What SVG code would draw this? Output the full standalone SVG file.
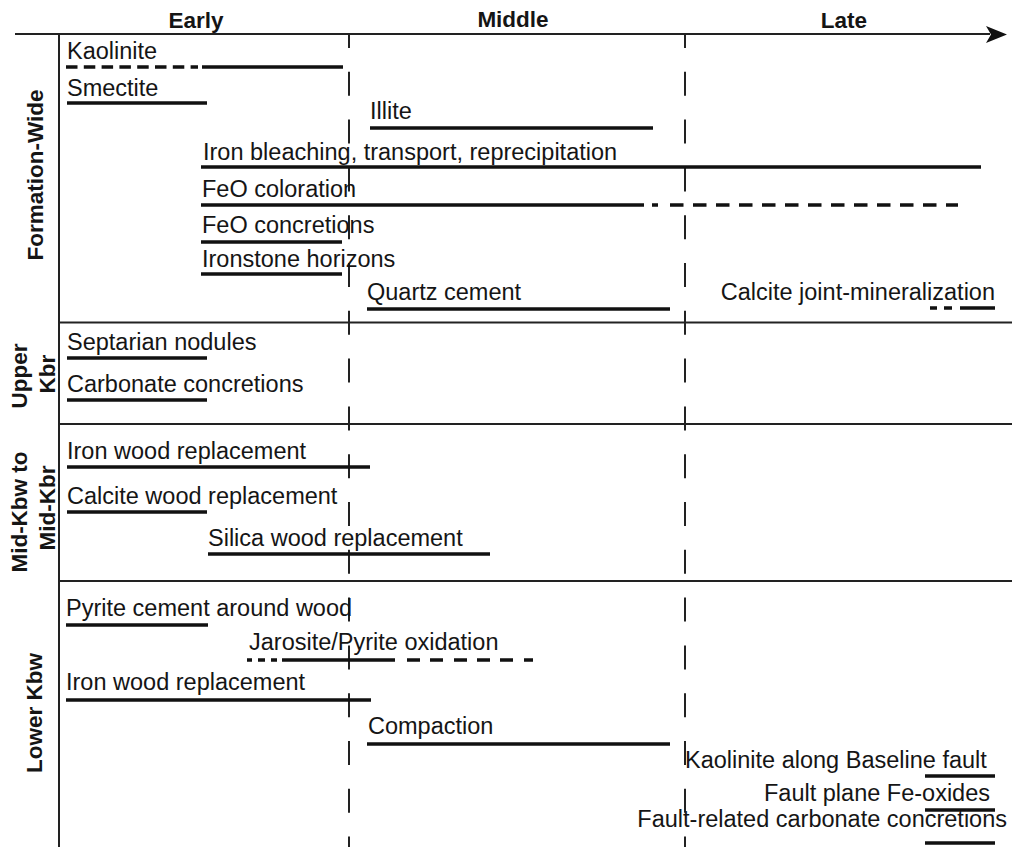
<svg xmlns="http://www.w3.org/2000/svg" width="1012" height="847" viewBox="0 0 1012 847">
<style>
text{font-family:"Liberation Sans",Arial,sans-serif;fill:#151515}
.t{font-size:23.5px}
.h{font-size:22.5px;font-weight:bold}
.s{font-size:22.5px;font-weight:bold}
.bar{stroke:#111;stroke-width:3.5;fill:none}
.grid{stroke:#222;stroke-width:2;fill:none}
.vd{stroke:#222;stroke-width:2;stroke-dasharray:24 23.8;stroke-dashoffset:10;fill:none}
</style>
<rect width="1012" height="847" fill="#fff"/>
<g id="frame">
<line class="grid" x1="15" y1="34" x2="990" y2="34"/>
<polygon points="986,26 1007,34.5 986,43 991,34.5" fill="#111"/>
<line class="grid" x1="59" y1="34" x2="59" y2="847"/>
<line class="grid" x1="59" y1="322.5" x2="1012" y2="322.5"/>
<line class="grid" x1="59" y1="424" x2="1012" y2="424"/>
<line class="grid" x1="59" y1="581" x2="1012" y2="581"/>
<line class="vd" x1="349" y1="34" x2="349" y2="847"/>
<line class="vd" x1="685" y1="34" x2="685" y2="847"/>
</g>
<g id="headers">
<text class="h" x="196" y="28" text-anchor="middle">Early</text>
<text class="h" x="513" y="27" text-anchor="middle">Middle</text>
<text class="h" x="844" y="28" text-anchor="middle">Late</text>
</g>
<g id="row-labels">
<text class="s" transform="translate(43,175) rotate(-90)" text-anchor="middle">Formation-Wide</text>
<text class="s" transform="translate(27,376) rotate(-90)" text-anchor="middle">Upper</text>
<text class="s" transform="translate(55,374) rotate(-90)" text-anchor="middle">Kbr</text>
<text class="s" transform="translate(27,512) rotate(-90)" text-anchor="middle">Mid-Kbw to</text>
<text class="s" transform="translate(55,508) rotate(-90)" text-anchor="middle">Mid-Kbr</text>
<text class="s" transform="translate(42,713) rotate(-90)" text-anchor="middle">Lower Kbw</text>
</g>
<g id="connectors">
<line class="bar" x1="66" y1="67" x2="198" y2="67" stroke-dasharray="11.5 6.3"/>
<line class="bar" x1="202" y1="67" x2="343" y2="67"/>
<line class="bar" x1="67" y1="103" x2="207" y2="103"/>
<line class="bar" x1="370" y1="128" x2="653" y2="128"/>
<line class="bar" x1="201" y1="167" x2="981" y2="167"/>
<line class="bar" x1="201" y1="205" x2="644" y2="205"/>
<line class="bar" x1="652" y1="205" x2="658" y2="205"/>
<line class="bar" x1="670" y1="205" x2="958" y2="205" stroke-dasharray="13.5 9.5"/>
<line class="bar" x1="201" y1="242" x2="342" y2="242"/>
<line class="bar" x1="201" y1="274" x2="342" y2="274"/>
<line class="bar" x1="367" y1="309" x2="670" y2="309"/>
<path class="bar" d="M930,308H937M944,308H952M960,308H995"/>
<line class="bar" x1="67" y1="358" x2="207" y2="358"/>
<line class="bar" x1="67" y1="400" x2="207" y2="400"/>
<line class="bar" x1="67" y1="467" x2="370" y2="467"/>
<line class="bar" x1="67" y1="512" x2="207" y2="512"/>
<line class="bar" x1="208" y1="554" x2="490" y2="554"/>
<line class="bar" x1="66" y1="625" x2="208" y2="625"/>
<path class="bar" d="M247,660H252M258,660H265M271,660H277M282,660H395M407,660H420M430,660H443M454,660H467M477,660H490M500,660H513M524,660H533"/>
<line class="bar" x1="66" y1="700" x2="371" y2="700"/>
<line class="bar" x1="367" y1="744" x2="670" y2="744"/>
<line class="bar" x1="925" y1="776" x2="995" y2="776"/>
<line class="bar" x1="925" y1="810" x2="995" y2="810"/>
<line class="bar" x1="925" y1="843" x2="995" y2="843"/>
</g>
<g id="kaolinite"><text class="t" x="67" y="59">Kaolinite</text></g>
<g id="smectite"><text class="t" x="67" y="96">Smectite</text></g>
<g id="illite"><text class="t" x="370" y="119">Illite</text></g>
<g id="iron-bleaching"><text class="t" x="203" y="160">Iron bleaching, transport, reprecipitation</text></g>
<g id="feo-coloration"><text class="t" x="202" y="197">FeO coloration</text></g>
<g id="feo-concretions"><text class="t" x="202" y="233">FeO concretions</text></g>
<g id="ironstone"><text class="t" x="202" y="267">Ironstone horizons</text></g>
<g id="quartz"><text class="t" x="367" y="300">Quartz cement</text></g>
<g id="calcite-joint"><text class="t" x="995" y="300" text-anchor="end">Calcite joint-mineralization</text></g>
<g id="septarian"><text class="t" x="67" y="350">Septarian nodules</text></g>
<g id="carbonate"><text class="t" x="67" y="392">Carbonate concretions</text></g>
<g id="iron-wood-mid"><text class="t" x="67" y="459">Iron wood replacement</text></g>
<g id="calcite-wood"><text class="t" x="67" y="504">Calcite wood replacement</text></g>
<g id="silica-wood"><text class="t" x="208" y="546">Silica wood replacement</text></g>
<g id="pyrite"><text class="t" x="66" y="616">Pyrite cement around wood</text></g>
<g id="jarosite"><text class="t" x="249" y="650">Jarosite/Pyrite oxidation</text></g>
<g id="iron-wood-lower"><text class="t" x="66" y="690">Iron wood replacement</text></g>
<g id="compaction"><text class="t" x="368" y="734">Compaction</text></g>
<g id="kaolinite-fault"><text class="t" x="685" y="768">Kaolinite along Baseline fault</text></g>
<g id="fault-fe"><text class="t" x="990" y="801" text-anchor="end">Fault plane Fe-oxides</text></g>
<g id="fault-carbonate"><text class="t" x="1007" y="827" text-anchor="end">Fault-related carbonate concretions</text></g>
</svg>
